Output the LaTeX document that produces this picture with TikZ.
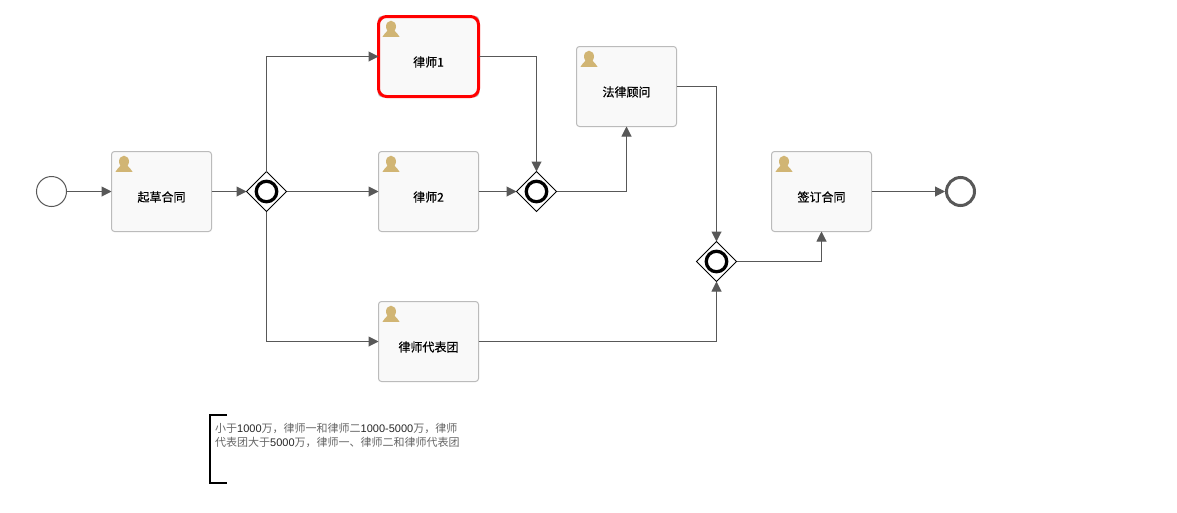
\documentclass[tikz,border=0pt]{standalone}
\usepackage{fontspec}
\setmainfont{Liberation Sans}
\newfontfamily\cjk{Noto Sans CJK SC}
\newfontfamily\cjkb[FakeBold=0.6]{Noto Sans CJK SC}
\usetikzlibrary{shapes.geometric,arrows.meta}
\definecolor{flow}{HTML}{585858}
\definecolor{taskline}{HTML}{BBBBBB}
\definecolor{taskfill}{HTML}{F9F9F9}
\definecolor{usericon}{HTML}{D1B574}
\definecolor{notegrey}{HTML}{666666}
\newcommand{\dg}[1]{{\color{black!85}\rmfamily #1}}
\tikzset{
  x=1pt,y=-1pt,
  tasknode/.style={draw=taskline,fill=taskfill,line width=1pt,rounded corners=3pt,minimum width=100pt,minimum height=80pt,inner sep=0pt,outer sep=0pt},
  highlight/.style={draw=red,line width=3pt,rounded corners=8pt,minimum width=100pt,minimum height=80pt,inner sep=0pt,outer sep=0pt},
  tasktext/.style={font=\cjkb\fontsize{12}{14}\selectfont,text=black,inner sep=0pt},
  gatenode/.style={diamond,draw=black,fill=white,line width=1pt,minimum width=40pt,minimum height=40pt,inner sep=0pt,outer sep=0pt,shape aspect=1},
  gatering/.style={circle,draw=black,line width=3.3pt,minimum size=20.5pt,inner sep=0pt,outer sep=0pt},
  startnode/.style={circle,draw=flow,fill=white,line width=1pt,minimum size=30pt,inner sep=0pt,outer sep=0pt},
  endnode/.style={circle,draw=flow,fill=white,line width=3pt,minimum size=28pt,inner sep=0pt,outer sep=1.5pt},
  flowline/.style={draw=flow,line width=1pt,-{Triangle[length=10pt,width=10pt,fill=flow]}},
  notetext/.style={font=\cjk\fontsize{11}{14}\selectfont,text=notegrey,align=left,inner sep=0pt},
  person/.pic={
    \fill[usericon] (12.5,10) ellipse[x radius=5,y radius=5.8];
    \fill[usericon] (4,20.3) .. controls (4.5,17.5) and (8,16.5) .. (9.5,13) -- (15.5,13) .. controls (17,16.5) and (20.5,17.5) .. (21,20.3) -- cycle;
  }
}
\begin{document}
\begin{tikzpicture}
\useasboundingbox (0,0) rectangle (1177,512);
\fill[white] (0,0) rectangle (1177,512);

\node[startnode] (start) at (51.5,191.5) {};
\node[endnode] (stop) at (960.5,191.5) {};

\node[tasknode] (draft) at (161.5,191.5) {};
\node[tasknode] (law1) at (428.5,56.5) {};
\node[highlight] (law1hl) at (428.5,56.5) {};
\node[tasknode] (law2) at (428.5,191.5) {};
\node[tasknode] (team) at (428.5,341.5) {};
\node[tasknode] (legal) at (626.5,86.5) {};
\node[tasknode] (sign) at (821.5,191.5) {};

\foreach \t in {draft,law1,law2,team,legal,sign}
  \pic at (\t.north west) {person};

\node[tasktext] (draftt) at ([yshift=-5.5pt]draft.center) {起草合同};
\node[tasktext] (law1t) at ([yshift=-5.5pt]law1.center) {律师1};
\node[tasktext] (law2t) at ([yshift=-5.5pt]law2.center) {律师2};
\node[tasktext] (teamt) at ([yshift=-5.5pt]team.center) {律师代表团};
\node[tasktext] (legalt) at ([yshift=-5.5pt]legal.center) {法律顾问};
\node[tasktext] (signt) at ([yshift=-5.5pt]sign.center) {签订合同};

\node[gatenode] (g1) at (266.5,191.5) {};
\node[gatenode] (g2) at (536.5,191.5) {};
\node[gatenode] (g3) at (716.5,261.5) {};
\node[gatering] (g1r) at (g1.center) {};
\node[gatering] (g2r) at (g2.center) {};
\node[gatering] (g3r) at (g3.center) {};

\draw[flowline] (start.east) -- (draft.west);
\draw[flowline] (draft.east) -- (g1.west);
\draw[flowline] (g1.north) |- (law1.west);
\draw[flowline] (g1.east) -- (law2.west);
\draw[flowline] (g1.south) |- (team.west);
\draw[flowline] (law1.east) -| (g2.north);
\draw[flowline] (law2.east) -- (g2.west);
\draw[flowline] (g2.east) -| (legal.south);
\draw[flowline] (legal.east) -| (g3.north);
\draw[flowline] (team.east) -| (g3.south);
\draw[flowline] (g3.east) -| (sign.south);
\draw[flowline] (sign.east) -- (stop.west);

\draw[black,line width=2pt] (227,415) -- (209.5,415) -- (209.5,483) -- (227,483);
\node[notetext,anchor=north west] (note) at (215,423) {小于\dg{1000}万，律师一和律师二\dg{1000-5000}万，律师\\代表团大于\dg{5000}万，律师一、律师二和律师代表团};
\end{tikzpicture}
\end{document}
